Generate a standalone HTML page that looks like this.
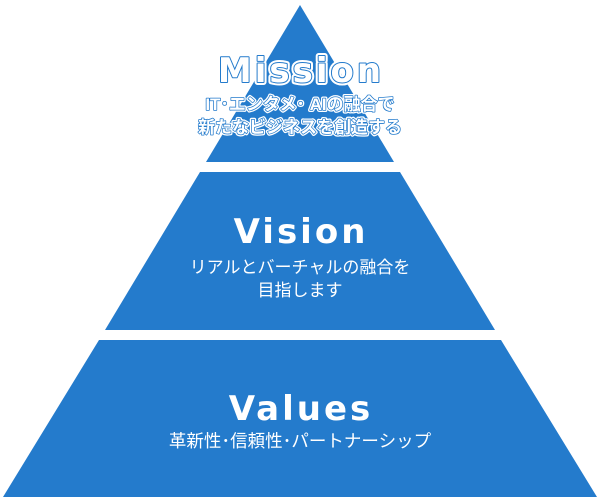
<!DOCTYPE html>
<html><head><meta charset="utf-8"><style>
html,body{margin:0;padding:0;background:#fff;width:600px;height:500px;overflow:hidden}
</style></head><body>
<svg width="600" height="500" xmlns="http://www.w3.org/2000/svg" style="display:block">
<g fill="#247bcc">
<polygon points="300,5 394,162 206,162"/>
<polygon points="200,172 400,172 495,330 105,330"/>
<polygon points="99,340 501,340 597,497 3,497"/>
</g>
<g font-family="'DejaVu Sans','Liberation Sans',sans-serif" font-weight="bold" text-anchor="middle" font-size="34" letter-spacing="3">
<text x="301" y="82" fill="#fff" stroke="#fff" stroke-width="6" stroke-linejoin="round">Mission</text>
<text x="301" y="82" fill="#fff" stroke="#247bcc" stroke-width="2" stroke-linejoin="round">Mission</text>
<text x="301" y="82" fill="#fff">Mission</text>
<text x="301" y="243" fill="#fff">Vision</text>
<text x="301" y="420" fill="#fff">Values</text>
</g>
<g font-family="'Liberation Sans','Noto Sans CJK JP',sans-serif" text-anchor="middle" font-size="17">
<g stroke-linejoin="round" font-weight="bold" fill="#fff">
<text x="300" y="110" stroke="#fff" stroke-width="4">IT･エンタメ･ AIの融合で</text>
<text x="300" y="133" stroke="#fff" stroke-width="4">新たなビジネスを創造する</text>
<text x="300" y="110" stroke="#247bcc" stroke-width="1.5">IT･エンタメ･ AIの融合で</text>
<text x="300" y="133" stroke="#247bcc" stroke-width="1.5">新たなビジネスを創造する</text>
<text x="300" y="110">IT･エンタメ･ AIの融合で</text>
<text x="300" y="133">新たなビジネスを創造する</text>
</g>
<g fill="#fff">
<text x="300" y="273">リアルとバーチャルの融合を</text>
<text x="300" y="296">目指します</text>
<text x="300" y="447" font-size="17.5">革新性･信頼性･パートナーシップ</text>
</g>
</g>
</svg>
</body></html>
